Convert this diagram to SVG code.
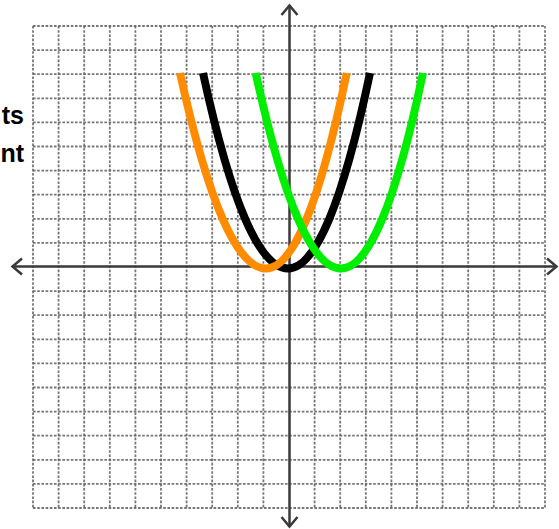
<svg xmlns="http://www.w3.org/2000/svg" width="559" height="529" viewBox="0 0 559 529">
  <style>
    .grid { stroke: #5e5e5e; stroke-width: 1.8; stroke-dasharray: 2.6 1.6; fill: none; opacity: 0.85; }
    .axis { stroke: #3a3a3a; stroke-width: 2.5; fill: none; }
    .curve { fill: none; stroke-width: 8; stroke-linecap: butt; stroke-linejoin: round; }
    .label { font-family: "Liberation Sans", Arial, sans-serif; font-weight: bold; font-size: 25px; fill: #000; }
  </style>
  <rect x="0" y="0" width="559" height="529" fill="#ffffff"/>
  <g id="grid">
    <path class="grid" d="M33,26V508 M58.6,26V508 M84.2,26V508 M109.8,26V508 M135.4,26V508 M161,26V508 M186.6,26V508 M212.2,26V508 M237.8,26V508 M263.4,26V508 M314.6,26V508 M340.2,26V508 M365.8,26V508 M391.4,26V508 M417,26V508 M442.6,26V508 M468.2,26V508 M493.8,26V508 M519.4,26V508 M545,26V508"/>
    <path class="grid" d="M33,26H545 M33,50.1H545 M33,74.2H545 M33,98.3H545 M33,122.4H545 M33,146.5H545 M33,170.6H545 M33,194.7H545 M33,218.8H545 M33,242.9H545 M33,291.1H545 M33,315.2H545 M33,339.3H545 M33,363.4H545 M33,387.5H545 M33,411.6H545 M33,435.7H545 M33,459.8H545 M33,483.9H545 M33,508H545"/>
  </g>
  <g id="axes">
    <path class="axis" d="M12,266.5H557 M289.5,5V527"/>
    <path class="axis" d="M22,258.5L12.5,266.5L22,274.5 M547,258.5L556.5,266.5L547,274.5 M281.5,15L289.5,5.5L297.5,15 M281.5,517L289.5,526.5L297.5,517"/>
  </g>
  <g id="curves">
    <path id="black-parabola" class="curve" stroke="#000000" d="M203,73 Q245.5,268.5 288,268.5 Q329,268.5 370,73"/>
    <path id="orange-parabola" class="curve" stroke="#ff8c00" d="M180,73 Q223,268.5 266,268.5 Q306.3,268.5 346.7,73"/>
    <path id="green-parabola" class="curve" stroke="#00ee00" d="M255.7,73 Q298.3,268.5 341,268.5 Q382,268.5 423,73"/>
  </g>
  <g id="labels">
    <text class="label" x="24" y="124" text-anchor="end">ts</text>
    <text class="label" x="24" y="162" text-anchor="end">nt</text>
  </g>
</svg>
